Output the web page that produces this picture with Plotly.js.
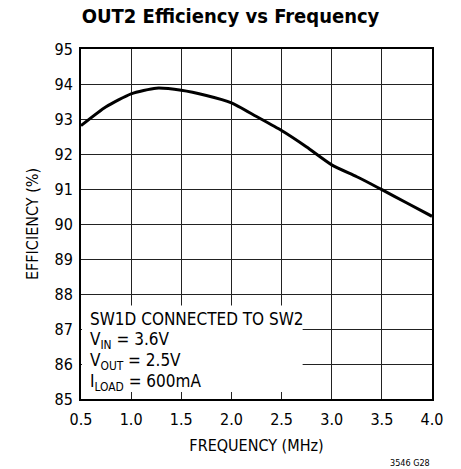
<!DOCTYPE html>
<html><head><meta charset="utf-8">
<script src="https://cdn.plot.ly/plotly-3.0.1.min.js"></script>
<style>html,body{margin:0;padding:0;background:#fff;}</style>
</head><body><div id="chart" style="width:461px;height:469px;"></div>
<script>
const frequencyMHz = [0.5, 0.75, 1.0, 1.25, 1.5, 1.75, 2.0, 2.25, 2.5, 2.75, 3.0, 3.25, 3.5, 3.75, 4.0];
const efficiencyPct = [92.81, 93.35, 93.72, 93.88, 93.82, 93.67, 93.46, 93.07, 92.67, 92.2, 91.69, 91.35, 90.98, 90.6, 90.22];
const xTicks = [0.5, 1.0, 1.5, 2.0, 2.5, 3.0, 3.5, 4.0];
const xTickLabels = ['0.5', '1.0', '1.5', '2.0', '2.5', '3.0', '3.5', '4.0'];
const yTicks = [85, 86, 87, 88, 89, 90, 91, 92, 93, 94, 95];
const noteLines = ['SW1D CONNECTED TO SW2', 'V<sub>IN</sub> = 3.6V', 'V<sub>OUT</sub> = 2.5V', 'I<sub>LOAD</sub> = 600mA'];

const F = '"Liberation Sans Narrow", "DejaVu Sans Condensed", Arial, sans-serif';
const trace = {x: frequencyMHz, y: efficiencyPct, mode: 'lines', type: 'scatter',
  line: {color: '#000', width: 3, shape: 'spline', smoothing: 0.6}, hoverinfo: 'none'};

const noteY = [87.3, 86.68, 86.06, 85.46];
const annotations = noteLines.map((t, i) => ({
  xref: 'paper', yref: 'y', x: 0.02, y: noteY[i], text: t, showarrow: false,
  xanchor: 'left', yanchor: 'middle', font: {family: F, size: 17, color: '#000'}
}));
annotations.push({xref: 'paper', yref: 'paper', x: 1.0, y: -0.183, text: '3546 G28', showarrow: false,
  xanchor: 'right', yanchor: 'middle', font: {family: F, size: 9, color: '#000'}});

const layout = {
  width: 461, height: 469,
  margin: {l: 81, r: 29, t: 49, b: 70},
  paper_bgcolor: '#fff', plot_bgcolor: '#fff',
  showlegend: false,
  title: {text: '<b>OUT2 Efficiency vs Frequency</b>', x: 0.5, xanchor: 'center', y: 0.965, yanchor: 'middle',
    font: {family: F, size: 20, color: '#000'}},
  xaxis: {range: [0.5, 4.0], tickvals: xTicks, ticktext: xTickLabels, showgrid: true, gridcolor: '#222', gridwidth: 1,
    zeroline: false, showline: true, mirror: true, linecolor: '#000', linewidth: 2, ticks: '',
    ticklabelstandoff: 5,
    tickfont: {family: F, size: 16, color: '#000'},
    title: {text: 'FREQUENCY (MHz)', font: {family: F, size: 16, color: '#000'}, standoff: 12}},
  yaxis: {range: [85, 95], tickvals: yTicks, showgrid: true, gridcolor: '#222', gridwidth: 1,
    zeroline: false, showline: true, mirror: true, linecolor: '#000', linewidth: 2, ticks: '',
    ticklabelstandoff: 3,
    tickfont: {family: F, size: 16, color: '#000'},
    title: {text: 'EFFICIENCY (%)', font: {family: F, size: 16, color: '#000'}, standoff: 12}},
  shapes: [{type: 'rect', xref: 'x', yref: 'y', x0: 0.51, x1: 2.71, y0: 85.2, y1: 87.67,
    fillcolor: '#fff', line: {width: 0}, layer: 'above'}],
  annotations: annotations
};
Plotly.newPlot('chart', [trace], layout, {staticPlot: true, displayModeBar: false});
</script></body></html>
